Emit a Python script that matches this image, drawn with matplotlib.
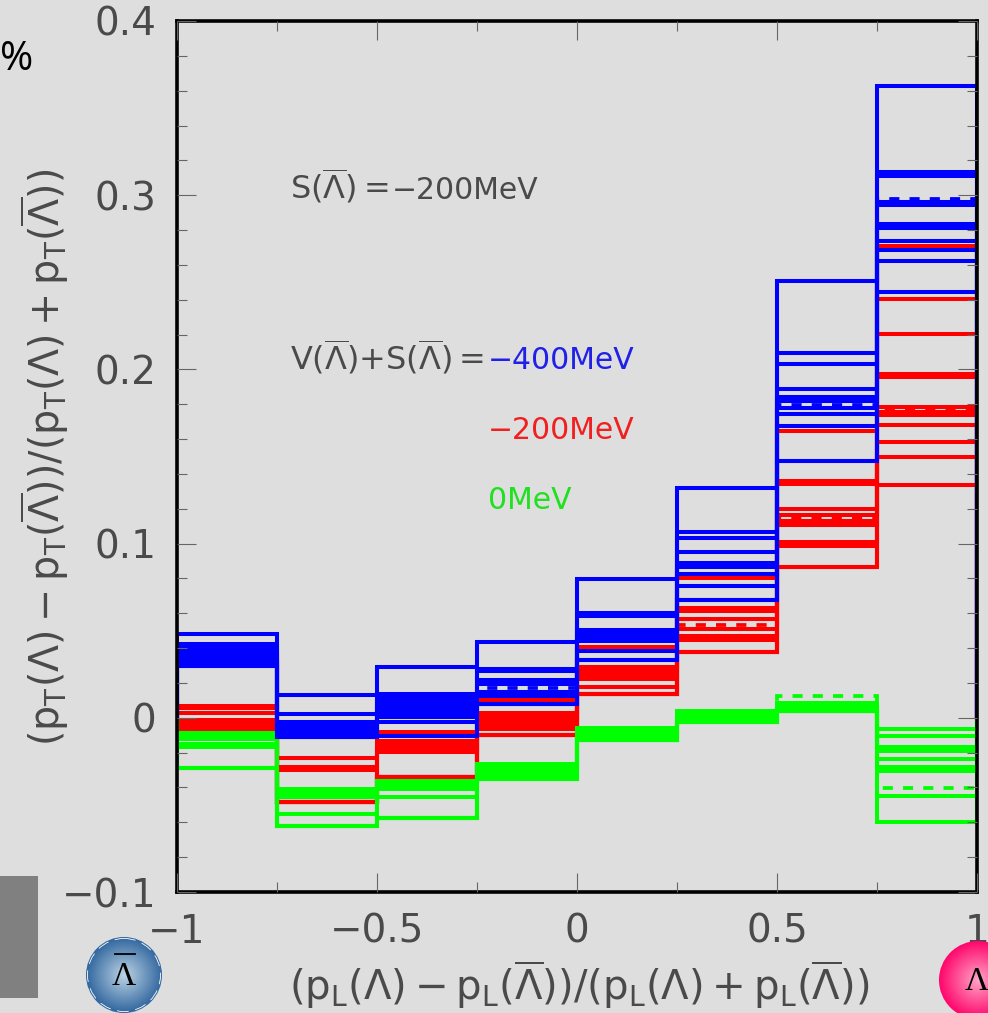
import numpy as np
import matplotlib
matplotlib.use('Agg')
import matplotlib.pyplot as plt
from matplotlib.patches import Circle, Rectangle
from matplotlib.ticker import MultipleLocator

plt.rcParams['font.family'] = 'DejaVu Sans'
plt.rcParams['mathtext.fontset'] = 'dejavusans'
plt.rcParams['mathtext.default'] = 'regular'

# Datos: one list per bin, levels read top to bottom
bin_edges = [-1, -0.75, -0.5, -0.25, 0, 0.25, 0.5, 0.75, 1]

blue_levels = [
    [.0483, .0421, .0404, .0387, .0370, .0353, .0336, .0319, .0300],
    [.0129, .0020, -.0024, -.0044, -.0061, -.0078, -.0095, -.0112],
    [.0291, .0134, .0117, .0094, .0071, .0048, .0028, .0002, -.0026, -.0107],
    [.0437, .0281, .0266, .0215, .0192, .0149, .0123, .0077],
    [.0794, .0600, .0582, .0502, .0485, .0461, .0439, .0381, .0330],
    [.1321, .1065, .1030, .0949, .0886, .0863, .0823, .0754, .0676],
    [.2505, .2092, .2029, .1886, .1839, .1816, .1776, .1742, .1675, .1472],
    [.3626, .3135, .3112, .2959, .2942, .2833, .2810, .2737, .2683, .2622, .2444],
]
red_levels = [
    [.0070, .0055, .0025, -.0010, -.0032, -.0055, -.0072],
    [-.0229, -.0282, -.0302, -.0486],
    [-.0084, -.0135, -.0158, -.0181, -.0198, -.0340],
    [.0100, .0025, .0002, -.0021, -.0043, -.0066, -.0101],
    [.0404, .0289, .0266, .0243, .0220, .0175, .0134],
    [.0800, .0628, .0611, .0565, .0507, .0467, .0444, .0377],
    [.1646, .1360, .1343, .1196, .1165, .1127, .1104, .1007, .0985, .0865],
    [.2708, .2402, .2201, .1975, .1958, .1785, .1753, .1736, .1680, .1581, .1497, .1334],
]
green_levels = [
    [-.0087, -.0107, -.0124, -.0150, -.0167, -.0290],
    [-.0411, -.0434, -.0457, -.0555, -.0623],
    [-.0365, -.0387, -.0411, -.0457, -.0577],
    [-.0268, -.0290, -.0313, -.0336, -.0353],
    [-.0061, -.0084, -.0107, -.0130],
    [.0037, .0014, -.0009, -.0026],
    [.0083, .0060, .0037],
    [-.0063, -.0105, -.0170, -.0192, -.0239, -.0280, -.0304, -.0449, -.0597],
]
blue_dashed = [.0370, -.0061, .0094, .0169, .0473, .0874, .1795, .2980]
red_dashed = [-.0032, -.0292, -.0158, -.0021, .0266, .0535, .1146, .1770]
green_dashed = [-.0107, -.0434, -.0387, -.0313, -.0084, .0014, .0125, -.0401]

x_ticks = [-1, -0.5, 0, 0.5, 1]
x_labels = ['\u22121', '\u22120.5', '0', '0.5', '1']
y_ticks = [-0.1, 0, 0.1, 0.2, 0.3, 0.4]
y_labels = ['\u22120.1', '0', '0.1', '0.2', '0.3', '0.4']

BG = '#dedede'
TXT = '#4a4a4a'
W, H = 988, 1013


def histograms(levels):
    # bins have different numbers of visible levels, repeat the last one
    n = max(len(b) for b in levels)
    return np.array([b + [b[-1]] * (n - len(b)) for b in levels]).T


fig = plt.figure(figsize=(W / 100, H / 100), dpi=100, facecolor=BG)
ax = fig.add_axes([177 / W, 1 - 892 / H, 800 / W, 871 / H], facecolor=BG)

for levels, dashed, color in [(red_levels, red_dashed, '#ff0000'),
                              (green_levels, green_dashed, '#00ff00'),
                              (blue_levels, blue_dashed, '#0000ff')]:
    for row in histograms(levels):
        ax.stairs(row, bin_edges, baseline=0, color=color, lw=2.9)
    ax.stairs(dashed, bin_edges, baseline=None, color=color, lw=2.7,
              linestyle=(0, (2.7, 2.7)))

ax.set_xlim(-1, 1)
ax.set_ylim(-0.1, 0.4)
ax.set_xticks(x_ticks)
ax.set_xticklabels(x_labels)
ax.set_yticks(y_ticks)
ax.set_yticklabels(y_labels)
ax.xaxis.set_minor_locator(MultipleLocator(0.25))
ax.yaxis.set_minor_locator(MultipleLocator(0.02))
ax.tick_params(which='major', direction='in', top=True, right=True, length=14,
               width=0.8, color='#666666', labelcolor=TXT, labelsize=28)
ax.tick_params(which='minor', direction='in', top=True, right=True, length=7,
               width=0.8, color='#666666')
ax.tick_params(axis='x', pad=15)
ax.tick_params(axis='y', pad=15)
for s in ax.spines.values():
    s.set_linewidth(2.6)
    s.set_color('black')
    s.set_zorder(1)

lam = r'\overline{\Lambda}'
note = 21.5
math_note = 23
ax.text(-0.7175, 0.298, rf'$S({lam}){{=}}$', fontsize=math_note, color=TXT, va='baseline')
ax.text(-0.4625, 0.298, '\u2212200MeV', fontsize=note, color=TXT, va='baseline')
ax.text(-0.7175, 0.2, rf'$V({lam}){{+}}S({lam}){{=}}$', fontsize=math_note, color=TXT, va='baseline')
ax.text(-0.2225, 0.2, '\u2212400MeV', fontsize=note, color='#2020e8', va='baseline')
ax.text(-0.2225, 0.16, '\u2212200MeV', fontsize=note, color='#f02020', va='baseline')
ax.text(-0.2225, 0.12, '0MeV', fontsize=note, color='#20e020', va='baseline')

ylab = (r'$(p_T(\Lambda)-p_T(' + lam + r'))/(p_T(\Lambda)+p_T(' + lam + r'))$')
xlab = (r'$(p_L(\Lambda)-p_L(' + lam + r'))/(p_L(\Lambda)+p_L(' + lam + r'))$')
fig.text(45 / W, 1 - 457 / H, ylab, rotation=90, fontsize=28.5, color=TXT, ha='center', va='center')
fig.text(579 / W, 1 - 985 / H, xlab, fontsize=29, color=TXT, ha='center', va='center')

# slide furniture around the plot, in pixel coordinates
over = fig.add_axes([0, 0, 1, 1], zorder=5)
over.set_xlim(0, W)
over.set_ylim(H, 0)
over.axis('off')
over.add_patch(Rectangle((0, 876), 38, 122, color='#808080', lw=0))
over.text(0, 70, '%', fontsize=29, color='black', ha='left', va='baseline', family='Open Sans')


def ball(cx, cy, r, inner, outer):
    yy, xx = np.mgrid[-1:1:200j, -1:1:200j]
    t = np.clip(np.hypot(xx, yy), 0, 1)[..., None]
    img = np.array(inner) * (1 - t) + np.array(outer) * t
    im = over.imshow(img, extent=(cx - r, cx + r, cy + r, cy - r), zorder=2)
    im.set_clip_path(Circle((cx, cy), r, transform=over.transData))


ball(124, 975, 38, (0.74, 0.83, 0.90), (0.19, 0.40, 0.62))
ball(978, 980, 39, (1.0, 0.65, 0.78), (1.0, 0.02, 0.42))
over.set_xlim(0, W)
over.set_ylim(H, 0)
over.add_patch(Circle((124, 975), 36.5, fill=False, ec='white', lw=0.6, ls=(0, (14, 8)), zorder=3))
over.text(124, 985, '\u039b', fontsize=24, family='Liberation Serif', color='black', ha='center', va='baseline', zorder=3)
over.plot([115, 135], [953.5, 953.5], color='black', lw=1.3, zorder=3)
over.text(965, 990, '\u039b', fontsize=24, family='Liberation Serif', color='black', ha='left', va='baseline', zorder=3)

fig.savefig('out.png', dpi=100, facecolor=BG)
